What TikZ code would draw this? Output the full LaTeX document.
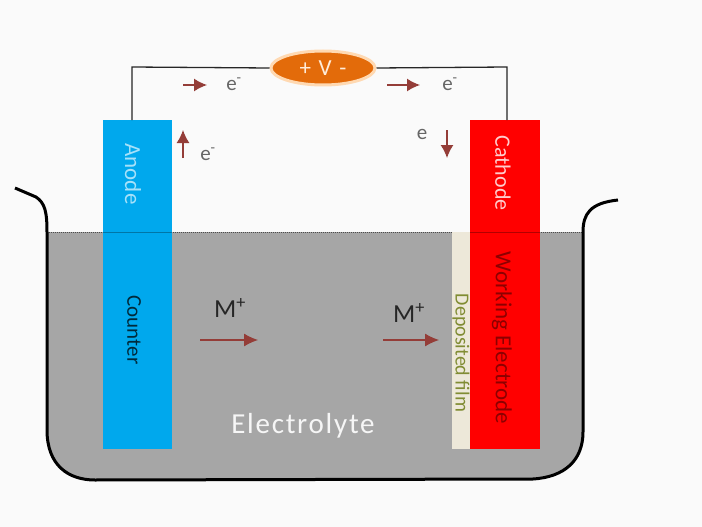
\documentclass[tikz,border=0pt]{standalone}
\usepackage{fontspec}
\setmainfont{Carlito}
\newfontfamily\widefont[LetterSpace=6]{Carlito}
\usetikzlibrary{arrows.meta,shapes.geometric}
\definecolor{paper}{rgb}{0.98,0.98,0.98}
\definecolor{liquid}{rgb}{0.65,0.65,0.65}
\definecolor{anodeblue}{rgb}{0,0.66,0.93}
\definecolor{cathodered}{rgb}{1,0,0}
\definecolor{filmcream}{rgb}{0.93,0.91,0.85}
\definecolor{supplyorange}{rgb}{0.89,0.42,0.04}
\definecolor{ionarrow}{rgb}{0.58,0.24,0.22}
\definecolor{filmgreen}{rgb}{0.5,0.55,0.2}
\tikzset{
	electrode/.style={rectangle,inner sep=0pt,minimum width=#1,anchor=north west},
	lead/.style={line width=1.3pt,black!85},
	flow/.style={-{Latex[length=13pt,width=13pt]},line width=1.4pt,ionarrow},
	ion/.style={-{Latex[length=14pt,width=13pt]},line width=1.1pt,ionarrow},
	elabel/.style={inner sep=0pt,black!60,font=\fontsize{21}{21}\selectfont},
	mlabel/.style={inner sep=0pt,black!85,font=\fontsize{26}{26}\selectfont},
	vtext/.style={inner sep=0pt,rotate=-90,font=\fontsize{#1}{#1}\selectfont}
}

\begin{document}
\begin{tikzpicture}[x=1pt,y=-1pt,>=latex,thick]
\useasboundingbox (0,0) rectangle (702,527);
\fill[paper] (0,0) rectangle (702,527);

\def\vessel{
	(15,188) -- (36,197) .. controls (45,203) and (47,212) .. (47,232) --
	(47,430) .. controls (47,465) and (68,480) .. (95,480) --
	(533,479) .. controls (565,477) and (583,460) .. (583,432) --
	(583,232) .. controls (583,214) and (590,203) .. (618,200)
}

\fill[liquid] (47,232) -- (47,430) .. controls (47,465) and (68,480) .. (95,480) --
	(533,479) .. controls (565,477) and (583,460) .. (583,432) -- (583,232) -- cycle;
\draw[black!70,densely dotted,line width=1pt] (47,232) -- (583,232);

\node (anode) [electrode=69pt,minimum height=329pt,fill=anodeblue] at (103,120) {};
\node (cathode) [electrode=70pt,minimum height=329pt,fill=cathodered] at (470,120) {};
\node (film) [electrode=18pt,minimum height=217pt,fill=filmcream] at (452,232) {};
\draw[anodeblue!70!black,line width=1pt] (103,232) -- (172,232);
\draw[cathodered!70!black,line width=1pt] (470,232) -- (540,232);

\draw[line width=3pt] \vessel;

\node (supply) [ellipse,minimum width=104pt,minimum height=34pt,inner sep=0pt,fill=supplyorange,draw=orange!30,line width=3pt,text=white!85!orange,font=\widefont\fontsize{23}{23}\selectfont] at (323,68) {+\,\,V\,\,-};

\coordinate (leftturn) at (132,67);
\coordinate (rightturn) at (507,67);
\draw[lead] (supply.west) -- (leftturn) -- (anode.north west -| leftturn);
\draw[lead] (supply.east) -- (rightturn) -- (cathode.north west -| rightturn);

\coordinate (flowA) at (183,85);
\coordinate (flowB) at (207,85);
\coordinate (flowC) at (387,85);
\coordinate (flowD) at (420,85);
\coordinate (flowE) at (183,158);
\coordinate (flowF) at (183,130);
\coordinate (flowG) at (447,130);
\coordinate (flowH) at (447,158);
\draw[flow] (flowA) -- (flowB);
\draw[flow] (flowC) -- (flowD);
\draw[flow] (flowE) -- (flowF);
\draw[flow] (flowG) -- (flowH);

\node (etop1) [elabel] at (234,84) {e\textsuperscript{-}};
\node (etop2) [elabel] at (450,84) {e\textsuperscript{-}};
\node (eleft) [elabel] at (208,154) {e\textsuperscript{-}};
\node (eright) [elabel] at (422,134) {e};

\node (anodetext) [vtext=23,anodeblue!35!white] at (133,174) {Anode};
\node (countertext) [vtext=21,anodeblue!25!black] at (134,330) {Counter};
\node (cathodetext) [vtext=22,white!80!red] at (503,173) {Cathode};
\node (worktext) [vtext=23,cathodered!55!black] at (502,338) {Working Electrode};
\node (filmtext) [vtext=20,filmgreen] at (461,353) {Deposited film};

\node (mleft) [mlabel] at (230,308) {M\textsuperscript{+}};
\node (mright) [mlabel] at (409,313) {M\textsuperscript{+}};
\coordinate (ionA) at (200,340);
\coordinate (ionB) at (258,340);
\coordinate (ionC) at (383,340);
\coordinate (ionD) at (439,340);
\draw[ion] (ionA) -- (ionB);
\draw[ion] (ionC) -- (ionD);

\node (electrolyte) [inner sep=0pt,white!90!liquid,font=\widefont\fontsize{29}{29}\selectfont] at (303,426) {Electrolyte};

\end{tikzpicture}
\end{document}
